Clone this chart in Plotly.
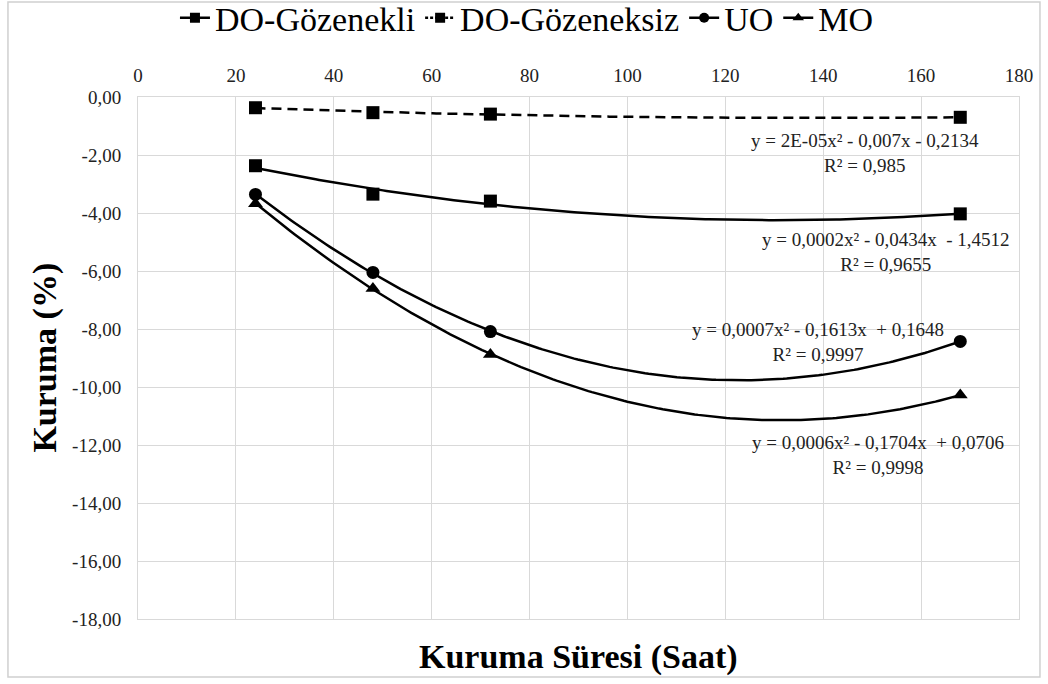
import numpy as np
import plotly.graph_objects as go

# ---- data ----
saat = [24, 48, 72, 168]
do_gozenekli = [-2.37, -3.35, -3.59, -4.03]
do_gozeneksiz = [-0.37, -0.54, -0.59, -0.70]
uo = [-3.36, -6.05, -8.09, -8.43]
mo = [-3.68, -6.60, -8.88, -10.28]

series_names = ["DO-Gözenekli", "DO-Gözeneksiz", "UO", "MO"]
series_values = [do_gozenekli, do_gozeneksiz, uo, mo]
symbols = ["square", "square", "circle", "triangle-up"]
dashes = ["solid", "10px,6px", "solid", "solid"]

equations = [
    "y = 0,0002x² - 0,0434x  - 1,4512<br>R² = 0,9655",
    "y = 2E-05x² - 0,007x - 0,2134<br>R² = 0,985",
    "y = 0,0007x² - 0,1613x  + 0,1648<br>R² = 0,9997",
    "y = 0,0006x² - 0,1704x  + 0,0706<br>R² = 0,9998",
]
eq_pos = [(152.8, -5.36), (148.5, -1.93), (139.0, -8.46), (151.2, -12.36)]

x_ticks = list(range(0, 181, 20))
y_ticks = list(range(0, -19, -2))
y_ticklabels = [("%.2f" % v).replace(".", ",") for v in y_ticks]

FONT = "Times New Roman"

fig = go.Figure()

xs = np.linspace(min(saat), max(saat), 200)
for name, vals, sym, dash in zip(series_names, series_values, symbols, dashes):
    coef = np.polyfit(saat, vals, 2)
    fig.add_trace(go.Scatter(
        x=xs, y=np.polyval(coef, xs), mode="lines",
        line=dict(color="black", width=2.5, dash=dash),
        showlegend=False, hoverinfo="skip"))
    fig.add_trace(go.Scatter(
        x=saat, y=vals, mode="markers",
        marker=dict(symbol=sym, size=13, color="black"),
        showlegend=False, name=name))
    fig.add_trace(go.Scatter(
        x=[None], y=[None], mode="lines+markers", name=name,
        line=dict(color="black", width=2.5, dash="3px,2px" if dash != "solid" else "solid"),
        marker=dict(symbol=sym, size=10, color="black")))

for txt, (ex, ey) in zip(equations, eq_pos):
    fig.add_annotation(x=ex, y=ey, text=txt, showarrow=False,
                       font=dict(family=FONT, size=19, color="#222"),
                       align="center", xanchor="center", yanchor="middle")

# axis titles
fig.add_annotation(xref="paper", yref="paper", x=0.5, y=-0.072,
                   text="<b>Kuruma Süresi (Saat)</b>", showarrow=False,
                   font=dict(family=FONT, size=34, color="black"),
                   xanchor="center", yanchor="middle")
fig.add_annotation(xref="paper", yref="paper", x=-0.106, y=0.5,
                   text="<b>Kuruma (%)</b>", showarrow=False, textangle=-90,
                   font=dict(family=FONT, size=34, color="black"),
                   xanchor="center", yanchor="middle")

# outer chart border
fig.add_shape(type="rect", xref="paper", yref="paper",
              x0=-0.1476, x1=1.0238, y0=-0.111, y1=1.182,
              line=dict(color="#d0d0d0", width=1.5), fillcolor="rgba(0,0,0,0)", layer="below")

fig.update_layout(
    width=1048, height=684,
    margin=dict(l=138, r=29, t=97, b=65, autoexpand=False),
    paper_bgcolor="white", plot_bgcolor="white",
    font=dict(family=FONT, color="#222"),
    legend=dict(orientation="h", x=0.4415, xanchor="center", y=1.151, yanchor="middle",
                font=dict(family=FONT, size=34, color="black"),
                itemwidth=30, tracegroupgap=0, bgcolor="rgba(0,0,0,0)"),
    xaxis=dict(range=[0, 180], tickvals=x_ticks, side="top",
               showgrid=True, gridcolor="#d9d9d9", gridwidth=1,
               showline=True, linecolor="#d9d9d9", mirror=True,
               zeroline=False, ticks="", ticklabelstandoff=6,
               tickfont=dict(family=FONT, size=19, color="#222")),
    yaxis=dict(range=[-18, 0], tickvals=y_ticks, ticktext=y_ticklabels,
               showgrid=True, gridcolor="#d9d9d9", gridwidth=1,
               showline=True, linecolor="#d9d9d9", mirror=True,
               zeroline=False, ticks="", ticklabelstandoff=12,
               tickfont=dict(family=FONT, size=19, color="#222")),
)

fig.write_html("out.html")
